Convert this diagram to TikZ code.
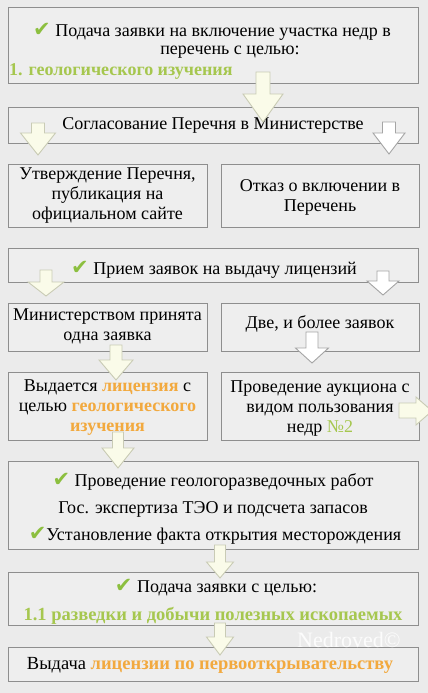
\documentclass[tikz,border=0pt]{standalone}
\usepackage{fontspec}
\setmainfont{Liberation Serif}
\newfontfamily\serf{Liberation Serif}
\newfontfamily\dvfont{DejaVu Sans}
\definecolor{bgc}{HTML}{EBEBEB}
\definecolor{boxc}{HTML}{EEEEEE}
\definecolor{brd}{HTML}{8E8E8E}
\definecolor{chk}{HTML}{8CBF3F}
\definecolor{grn}{HTML}{A6C74F}
\definecolor{org}{HTML}{F2A93E}
\definecolor{arrfill}{HTML}{FAFBE9}
\definecolor{arrline}{HTML}{C9CBB5}
\newcommand\ck{{\dvfont\fontsize{21}{20}\selectfont\color{chk}✔}}
\newcommand\gt[1]{{\bfseries\color{grn}#1}}
\newcommand\ot[1]{{\bfseries\color{org}#1}}
\newcommand\blockdown[7]{% cx, top, headY, tip, shaftHalf, headHalf, style
  \draw[#7] (#1-#5,#2) -- (#1+#5,#2) -- (#1+#5,#3) -- (#1+#6,#3) -- (#1,#4) -- (#1-#6,#3) -- (#1-#5,#3) -- cycle;}
\tikzset{
  box/.style={draw=brd, fill=boxc, line width=0.9pt, rectangle, inner sep=0pt},
  txt/.style={font=\serf\fontsize{18}{20}\selectfont, align=center, inner sep=0pt},
  yarr/.style={draw=arrline, fill=arrfill, line width=0.9pt, line join=miter},
  warr/.style={draw=brd!80, fill=white, line width=0.9pt, line join=miter},
}
\begin{document}
\begin{tikzpicture}[x=1pt,y=-1pt]
\fill[bgc] (0,0) rectangle (428,693);
\useasboundingbox (0,0) rectangle (428,693);
% boxes
\node[box, minimum width=410pt, minimum height=76pt] (b1) at (213,45) {};
\node[box, minimum width=410pt, minimum height=36pt] (b2) at (213,125) {};
\node[box, minimum width=199pt, minimum height=63pt] (b3) at (107.5,195.5) {};
\node[box, minimum width=198pt, minimum height=63pt] (b4) at (320,195.5) {};
\node[box, minimum width=410pt, minimum height=34pt] (b5) at (213,265) {};
\node[box, minimum width=199pt, minimum height=48pt] (b6) at (107.5,327) {};
\node[box, minimum width=198pt, minimum height=48pt] (b7) at (320,327) {};
\node[box, minimum width=199pt, minimum height=68pt] (b8) at (107.5,406) {};
\node[box, minimum width=198pt, minimum height=68pt] (b9) at (320,406) {};
\node[box, minimum width=410pt, minimum height=88pt] (b10) at (213,505) {};
\node[box, minimum width=410pt, minimum height=53pt] (b11) at (213,598.5) {};
\node[box, minimum width=410pt, minimum height=34pt] (b12) at (213,664) {};
% texts
\node[txt] (t1a) at (212,32) {\ck\ Подача заявки на включение участка недр в};
\node[txt] (t1b) at (230,52) {перечень с целью:};
\node[txt, anchor=west] (t1c) at (9,72) {\gt{1. геологического изучения}};
\node[txt] (t2) at (213,125) {Согласование Перечня в Министерстве};
\node[txt] (t3) at (107.5,196) {Утверждение Перечня,\\публикация на\\официальном сайте};
\node[txt] (t4) at (320,197) {Отказ о включении в\\Перечень};
\node[txt] (t5) at (214,270) {\ck\ Прием заявок на выдачу лицензий};
\node[txt] (t6) at (107.5,326) {Министерством принята\\одна заявка};
\node[txt] (t7) at (320,324) {Две, и более заявок};
\node[txt] (t8) at (107.5,408) {Выдается \ot{лицензия} с\\целью \ot{геологического}\\\ot{изучения}};
\node[txt] (t9) at (320,409) {Проведение аукциона с\\видом пользования\\недр {\color{grn}№2}};
\node[txt] (t10a) at (213,482) {\ck\ Проведение геологоразведочных работ};
\node[txt] (t10b) at (213,509) {Гос. экспертиза ТЭО и подсчета запасов};
\node[txt] (t10c) at (215,536) {\ck Установление факта открытия месторождения};
\node[txt] (t11a) at (216,588) {\ck\ Подача заявки с целью:};
\node[txt, font=\serf\fontsize{18.5}{20}\selectfont] (t11b) at (213,616) {\gt{1.1 разведки и добычи полезных ископаемых}};
\node[txt, font=\serf\fontsize{18.5}{20}\selectfont] (t12) at (210,665) {Выдача \ot{лицензии по первооткрывательству}};
% block arrows
\blockdown{263}{72}{94}{122}{7}{20}{yarr}
\blockdown{38}{123}{133}{155}{6.5}{17.5}{yarr}
\blockdown{389}{122}{133}{154}{6.5}{16}{warr}
\blockdown{46}{270}{282}{296}{6}{18}{yarr}
\blockdown{383}{271}{281}{295}{6}{16}{warr}
\blockdown{116}{345}{360}{380}{6}{17}{yarr}
\blockdown{312}{332}{348}{363}{6}{16.5}{warr}
\blockdown{118}{432}{448}{468}{5.5}{16}{yarr}
\blockdown{220}{545}{562}{578}{5.5}{13.5}{yarr}
\blockdown{220}{623}{637}{655}{5.5}{13.5}{yarr}
\draw[yarr] (399,403) -- (416,403) -- (416,397) -- (432,411) -- (416,425) -- (416,418) -- (399,418) -- cycle;
% watermark
\node[txt, font=\serf\fontsize{22}{24}\selectfont, text=white, opacity=0.85, anchor=west] (wm) at (297,640) {Nedroved©};
\end{tikzpicture}
\end{document}
